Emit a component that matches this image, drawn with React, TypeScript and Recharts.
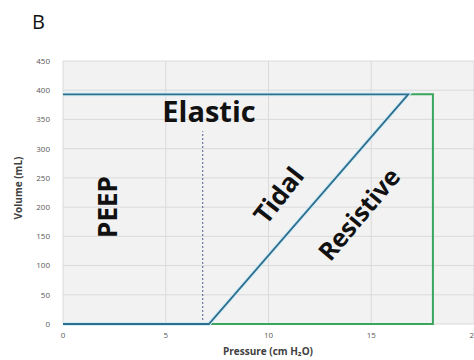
import React from 'react';
import { LineChart, Line, XAxis, YAxis, CartesianGrid } from 'recharts';

// pressure (cm H2O) / volume (mL) points of the loop outline
const BLUE_PRESSURE = [0, 16.8, 7.1, 0];
const BLUE_VOLUME = [393, 393, 0, 0];
const GREEN_PRESSURE = [7.1, 18, 18, 16.8];
const GREEN_VOLUME = [0, 0, 393, 393];
const PEEP_PRESSURE = [6.8, 6.8];
const PEEP_VOLUME = [0, 330];

const X_TICKS = [0, 5, 10, 15, 20];
const Y_TICKS = [0, 50, 100, 150, 200, 250, 300, 350, 400, 450];

const toPoints = (xs: number[], ys: number[]) => xs.map((x, i) => ({ x, y: ys[i] }));

const bluePath = toPoints(BLUE_PRESSURE, BLUE_VOLUME);
const greenPath = toPoints(GREEN_PRESSURE, GREEN_VOLUME);
const peepPath = toPoints(PEEP_PRESSURE, PEEP_VOLUME);

const TICK = { fontSize: 8, fill: '#595959', fontFamily: 'Open Sans' };

export default function App() {
  return (
    <div style={{ position: 'absolute', left: 0, top: 0, width: 474, height: 360, overflow: 'hidden', background: '#fff' }}>
      <LineChart width={490} height={360} margin={{ top: 61, right: 16, bottom: 6, left: 13 }}>
        <CartesianGrid fill="#f2f2f2" stroke="#dadada" />
        <XAxis
          type="number"
          dataKey="x"
          domain={[0, 20]}
          ticks={X_TICKS}
          axisLine={false}
          tickLine={false}
          tickSize={0}
          tickMargin={8}
          height={30}
          tick={TICK}
        />
        <YAxis
          type="number"
          dataKey="y"
          domain={[0, 450]}
          ticks={Y_TICKS}
          axisLine={false}
          tickLine={false}
          tickSize={0}
          tickMargin={13}
          width={50}
          tick={TICK}
        />
        <Line data={peepPath} dataKey="y" stroke="#4b5f8c" strokeWidth={1} strokeDasharray="2 2" dot={false} isAnimationActive={false} />
        <Line data={greenPath} dataKey="y" stroke="#3aa55c" strokeWidth={2} dot={false} isAnimationActive={false} />
        {/* faint halo like the blurred original */}
        <Line data={bluePath} dataKey="y" stroke="#d3ecf7" strokeWidth={4} dot={false} isAnimationActive={false} />
        <Line data={bluePath} dataKey="y" stroke="#2e6f8e" strokeWidth={1.8} dot={false} isAnimationActive={false} />
      </LineChart>
      <svg width={474} height={360} style={{ position: 'absolute', left: 0, top: 0, pointerEvents: 'none' }}>
        <text x={32} y={29} fontSize={20} fontFamily="Open Sans" fill="#111">B</text>
        <text x={209} y={122} fontSize={29} fontWeight="bold" fontFamily="Open Sans" fill="#111" textAnchor="middle">Elastic</text>
        <text x={0} y={0} fontSize={26} fontWeight="bold" fontFamily="Open Sans" fill="#111" textAnchor="middle" transform="translate(117 207) rotate(-90)">PEEP</text>
        <text x={0} y={0} fontSize={26} fontWeight="bold" fontFamily="Open Sans" fill="#111" textAnchor="middle" transform="translate(286 201) rotate(-52)">Tidal</text>
        <text x={0} y={0} fontSize={25} fontWeight="bold" fontFamily="Open Sans" fill="#111" textAnchor="middle" transform="translate(366 220) rotate(-50)">Resistive</text>
        <text x={0} y={0} fontSize={10} fontWeight="bold" fontFamily="Open Sans" fill="#404040" textAnchor="middle" transform="translate(22 188) rotate(-90)">Volume (mL)</text>
        <text x={268} y={355} fontSize={10} fontWeight="bold" fontFamily="Open Sans" fill="#404040" textAnchor="middle">Pressure (cm H₂O)</text>
      </svg>
    </div>
  );
}
